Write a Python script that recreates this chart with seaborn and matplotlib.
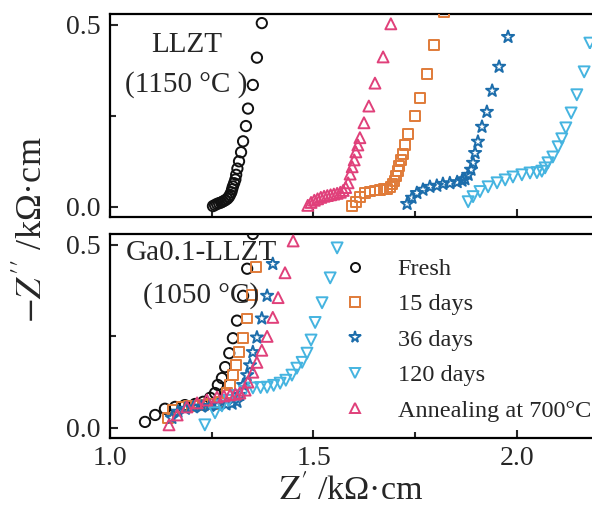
import matplotlib
matplotlib.use("Agg")
import matplotlib.pyplot as plt
from matplotlib.lines import Line2D
from matplotlib.ticker import MultipleLocator
import seaborn as sns
import pandas as pd

sns.set_style("ticks")
plt.rcParams['font.family'] = ['Liberation Serif', 'DejaVu Serif']
plt.rcParams['mathtext.fontset'] = 'stix'

labels = ["Fresh", "15 days", "36 days", "120 days", "Annealing at 700°C"]
colors = ["#111111", "#E07B39", "#1C6DAB", "#45B4E0", "#E0407A"]
markers = ["o", "s", "*", "v", "^"]
sizes = [55, 50, 85, 62, 62]

# ---- top panel: LLZT (1150 °C)
fresh_top_x = [1.253,1.258,1.263,1.268,1.273,1.278,1.283,1.288,1.292,1.295,1.298,1.300,1.302,1.305,1.308,1.310,1.313,1.317,1.322,1.327,1.334,1.339,1.351,1.361,1.373]
fresh_top_y = [0.002,0.005,0.008,0.010,0.012,0.015,0.018,0.022,0.027,0.033,0.040,0.048,0.056,0.065,0.075,0.088,0.105,0.125,0.150,0.180,0.222,0.270,0.335,0.410,0.505]
d15_top_x = [1.595,1.604,1.614,1.627,1.639,1.651,1.663,1.672,1.681,1.689,1.694,1.699,1.703,1.707,1.711,1.715,1.720,1.725,1.732,1.749,1.762,1.779,1.796,1.821]
d15_top_y = [0.002,0.014,0.028,0.037,0.042,0.045,0.047,0.048,0.050,0.055,0.062,0.072,0.084,0.098,0.113,0.128,0.145,0.170,0.200,0.250,0.300,0.365,0.445,0.535]
d36_top_x = [1.730,1.742,1.754,1.769,1.786,1.803,1.818,1.835,1.853,1.865,1.872,1.880,1.887,1.892,1.897,1.904,1.914,1.926,1.939,1.956,1.978]
d36_top_y = [0.008,0.025,0.038,0.047,0.055,0.058,0.063,0.065,0.068,0.072,0.076,0.088,0.102,0.121,0.148,0.179,0.220,0.261,0.319,0.385,0.467]
d120_top_x = [1.880,1.892,1.909,1.929,1.951,1.971,1.990,2.012,2.032,2.049,2.061,2.069,2.076,2.088,2.101,2.110,2.120,2.133,2.147,2.165,2.179]
d120_top_y = [0.014,0.028,0.042,0.055,0.066,0.074,0.082,0.088,0.093,0.094,0.098,0.107,0.121,0.137,0.165,0.187,0.217,0.258,0.308,0.371,0.450]
ann_top_x = [1.486,1.494,1.502,1.510,1.518,1.526,1.534,1.542,1.550,1.558,1.566,1.573,1.579,1.585,1.590,1.595,1.600,1.604,1.609,1.614,1.624,1.636,1.651,1.671,1.690]
ann_top_y = [0.004,0.012,0.018,0.022,0.026,0.029,0.031,0.033,0.035,0.037,0.040,0.045,0.053,0.066,0.090,0.110,0.129,0.151,0.170,0.190,0.231,0.277,0.340,0.412,0.503]

# ---- bottom panel: Ga0.1-LLZT (1050 °C)
fresh_bot_x = [1.086,1.111,1.135,1.160,1.184,1.209,1.229,1.246,1.258,1.265,1.275,1.283,1.293,1.302,1.312,1.327,1.337,1.351]
fresh_bot_y = [0.016,0.035,0.052,0.057,0.062,0.065,0.071,0.082,0.095,0.117,0.136,0.166,0.204,0.245,0.293,0.361,0.435,0.530]
d15_bot_x = [1.143,1.155,1.177,1.195,1.212,1.228,1.243,1.258,1.270,1.287,1.295,1.302,1.310,1.317,1.327,1.337,1.349,1.359]
d15_bot_y = [0.027,0.048,0.057,0.060,0.061,0.062,0.064,0.066,0.071,0.095,0.117,0.144,0.171,0.207,0.245,0.299,0.364,0.440]
d36_bot_x = [1.152,1.167,1.185,1.205,1.225,1.245,1.265,1.285,1.300,1.312,1.319,1.327,1.337,1.344,1.351,1.361,1.373,1.386,1.400]
d36_bot_y = [0.027,0.044,0.052,0.056,0.058,0.060,0.062,0.064,0.066,0.071,0.090,0.117,0.144,0.171,0.207,0.247,0.299,0.361,0.448]
d120_bot_x = [1.233,1.258,1.275,1.292,1.310,1.330,1.351,1.370,1.386,1.402,1.418,1.432,1.447,1.459,1.472,1.484,1.494,1.504,1.521,1.541,1.558]
d120_bot_y = [0.008,0.041,0.060,0.075,0.088,0.100,0.109,0.110,0.111,0.116,0.122,0.130,0.144,0.163,0.179,0.204,0.240,0.288,0.342,0.410,0.492]
ann_bot_x = [1.145,1.165,1.189,1.214,1.238,1.263,1.280,1.295,1.308,1.319,1.332,1.339,1.351,1.361,1.373,1.386,1.400,1.413,1.430,1.450]
ann_bot_y = [0.008,0.035,0.057,0.068,0.076,0.084,0.087,0.090,0.092,0.095,0.103,0.125,0.152,0.179,0.212,0.250,0.302,0.356,0.424,0.511]

top_series = [(fresh_top_x, fresh_top_y), (d15_top_x, d15_top_y), (d36_top_x, d36_top_y),
              (d120_top_x, d120_top_y), (ann_top_x, ann_top_y)]
bot_series = [(fresh_bot_x, fresh_bot_y), (d15_bot_x, d15_bot_y), (d36_bot_x, d36_bot_y),
              (d120_bot_x, d120_bot_y), (ann_bot_x, ann_bot_y)]

W, H = 592, 508
fig = plt.figure(figsize=(W / 100, H / 100), dpi=100)
left = 110 / W
right_px = 110 + 1.2 * 407
axw = (right_px - 110) / W
ax1 = fig.add_axes([left, (H - 217) / H, axw, 203 / H])
ax2 = fig.add_axes([left, (H - 438) / H, axw, 204 / H])

def draw(ax, series):
    for (x, y), c, m, s in zip(series, colors, markers, sizes):
        df = pd.DataFrame({"x": x, "y": y})
        n0 = len(ax.collections)
        sns.scatterplot(data=df, x="x", y="y", ax=ax, marker=m, s=s, legend=False,
                        linewidth=1.4, zorder=3)
        for coll in ax.collections[n0:]:
            coll.set_facecolor("none")
            coll.set_edgecolor(c)
            coll.set_linewidth(1.4)

draw(ax1, top_series)
draw(ax2, bot_series)

for ax in (ax1, ax2):
    ax.set_xlim(1.0, 2.2)
    ax.set_ylim(-0.028, 0.53)
    ax.set_xlabel("")
    ax.set_ylabel("")
    ax.xaxis.set_major_locator(MultipleLocator(0.5))
    ax.xaxis.set_minor_locator(MultipleLocator(0.25))
    ax.yaxis.set_major_locator(MultipleLocator(0.5))
    ax.yaxis.set_minor_locator(MultipleLocator(0.25))
    ax.tick_params(which="major", direction="in", length=6, width=1.5, labelsize=20, pad=7,
                   top=False, right=False)
    ax.tick_params(which="minor", direction="in", length=4.5, width=1.5, top=False, right=False)
    ax.yaxis.set_major_formatter(plt.FuncFormatter(lambda v, p: f"{v:.1f}"))
    ax.xaxis.set_major_formatter(plt.FuncFormatter(lambda v, p: f"{v:.1f}"))
    for sp in ax.spines.values():
        sp.set_linewidth(1.6)
        sp.set_color("black")

ax1.tick_params(labelbottom=False)
ax2.tick_params(axis="x", which="major", pad=6)

ax1.text(0.158, 0.847, "LLZT", transform=ax1.transAxes, ha="center", va="center", fontsize=21)
ax1.text(0.156, 0.655, "(1150 °C )", transform=ax1.transAxes, ha="center", va="center", fontsize=21)
ax2.text(0.188, 0.907, "Ga0.1-LLZT", transform=ax2.transAxes, ha="center", va="center", fontsize=21)
ax2.text(0.186, 0.697, "(1050 °C)", transform=ax2.transAxes, ha="center", va="center", fontsize=21)

handles = [Line2D([], [], linestyle="", marker=m, markersize=ms, markerfacecolor="none",
                  markeredgecolor=c, markeredgewidth=1.4)
           for m, c, ms in zip(markers, colors, [6.5, 6.5, 8.5, 7, 7])]
fig.legend(handles, labels, loc="upper left", bbox_to_anchor=(343 / W, (H - 258) / H),
           bbox_transform=fig.transFigure, frameon=False, fontsize=17.5,
           handlelength=1.0, handletextpad=1.25, labelspacing=0.55, borderpad=0, borderaxespad=0)

fig.text(351 / W, (H - 491) / H, r"$\mathrm{Z}^{\prime}$ /kΩ·cm", ha="center", va="center", fontsize=24.5)
fig.text(33 / W, (H - 230) / H, r"$-Z^{\prime\prime}$ /kΩ·cm", ha="center", va="center",
         rotation=90, fontsize=26)

fig.savefig("out.png", dpi=100)
